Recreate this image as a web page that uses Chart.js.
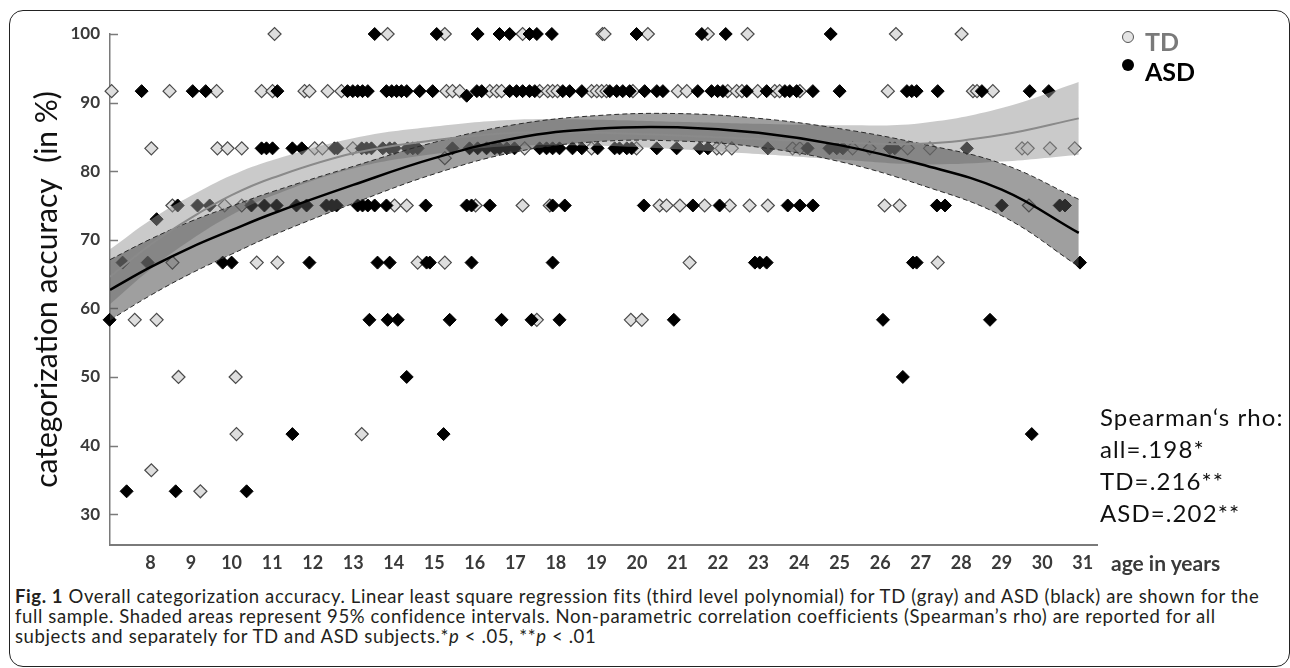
<!DOCTYPE html>
<html>
<head>
<meta charset="utf-8">
<title>Overall categorization accuracy</title>
<script src="https://cdn.jsdelivr.net/npm/chart.js@4.4.1/dist/chart.umd.min.js"></script>
<style>
  html, body { margin: 0; padding: 0; background: #fff; }
  body { width: 1290px; height: 668px; position: relative; overflow: hidden; font-family: Lato, sans-serif; }
  #chart { position: absolute; left: 0; top: 0; }
  #frame {
    position: absolute; left: 9px; top: 10px; width: 1281px; height: 657px;
    border: 1.5px solid #222; border-radius: 14px; box-sizing: border-box; pointer-events: none;
  }
  .txt { position: absolute; white-space: nowrap; }
  .axis-name { left: 1111px; top: 550px; font: bold 21px/26px Lato, sans-serif; color: #3a3a3a; }
  .dot { position: absolute; width: 12px; height: 12px; border-radius: 50%; box-sizing: border-box; }
  .dot.td { left: 1122px; top: 31px; background: #e4e4e4; border: 1.3px solid #555; }
  .dot.asd { left: 1122px; top: 59px; background: #000; }
  .leg { font: bold 25px/30px Lato, sans-serif; left: 1145px; }
  .leg.td { top: 26px; color: #7a7a7a; }
  .leg.asd { top: 56px; color: #000; }
  #rho { left: 1100px; top: 401px; font: 24px/32px Lato, sans-serif; letter-spacing: 1.1px; color: #111; }
  #caption { left: 15px; top: 586px; font: 18.5px/20px Lato, sans-serif; color: #231f20; }
  #caption div { white-space: nowrap; }
</style>
</head>
<body>
<canvas id="chart" width="1290" height="580"></canvas>

<div class="txt axis-name">age in years</div>
<div class="dot td"></div><div class="txt leg td">TD</div>
<div class="dot asd"></div><div class="txt leg asd">ASD</div>
<div class="txt" id="rho">Spearman‘s rho:<br>all=.198*<br>TD=.216**<br>ASD=.202**</div>
<div class="txt" id="caption">
  <div id="cap1"><b>Fig. 1</b> Overall categorization accuracy. Linear least square regression fits (third level polynomial) for TD (gray) and ASD (black) are shown for the</div>
  <div>full sample. Shaded areas represent 95% confidence intervals. Non-parametric correlation coefficients (Spearman’s rho) are reported for all</div>
  <div>subjects and separately for TD and ASD subjects.*<i>p</i> &lt; .05, **<i>p</i> &lt; .01</div>
</div>
<div id="frame"></div>

<script>
// accuracy levels (12 items -> steps of 8.33 %)
const levels = [100, 91.67, 83.33, 75, 66.67, 58.33, 50, 41.67, 33.33];

// ages of TD subjects, one list per accuracy level
const tdAges = [
  [11.06, 13.85, 15.26, 17.18, 19.15, 19.2, 20.27, 21.75, 22.73, 26.39, 28.01],
  [7.04, 8.47, 9.63, 10.74, 11.01, 11.8, 11.92, 12.37, 12.71, 15.3, 15.45, 15.63, 16.37, 16.54, 16.66,
   17.6, 17.8, 17.92, 18.04, 18.88, 19.01, 19.13, 19.25, 19.9, 21.01, 21.23, 22.24, 22.46, 22.59,
   22.98, 23.4, 23.52, 24.02, 26.19, 28.29, 28.39, 28.78],
  [8.02, 9.65, 9.9, 10.25, 12.05, 12.24, 12.99, 17.23, 18.88, 19.99, 21.97, 22.09, 22.34, 23.84,
   24.02, 25.32, 25.74, 26.68, 27.23, 29.5, 29.64, 30.19, 30.8],
  [8.54, 9.83, 10.25, 14.02, 14.32, 16.02, 17.18, 17.85, 20.56, 20.73, 21.06, 21.67, 22.29, 22.78,
   23.23, 26.11, 26.48, 29.67],
  [8.54, 10.62, 11.13, 14.59, 15.26, 21.3, 27.42],
  [7.61, 8.15, 17.53, 19.85, 20.12],
  [8.69, 10.1],
  [10.12, 13.21],
  [9.23]
];

// ages of ASD subjects, one list per accuracy level
const asdAges = [
  [13.53, 15.06, 16.07, 16.61, 16.86, 17.35, 17.53, 17.9, 19.99, 21.6, 22.19, 24.78],
  [7.78, 9.04, 9.36, 11.13, 12.86, 12.99, 13.11, 13.23, 13.36, 13.82, 13.95, 14.07, 14.19, 14.32,
   14.64, 14.96, 16.05, 16.17, 16.86, 17.03, 17.18, 17.35, 17.48, 18.17, 18.34, 18.64, 19.33, 19.5,
   19.65, 19.82, 20.19, 20.49, 20.64, 21.5, 21.84, 21.99, 22.12, 22.71, 23.2, 23.65, 23.77, 23.94,
   24.34, 25.0, 26.66, 26.78, 26.9, 27.42, 28.51, 29.69, 30.16],
  [10.74, 10.86, 11.01, 11.5, 11.73, 12.54, 12.61, 13.21, 13.33, 13.45, 13.73, 13.9, 14.02, 14.34,
   14.47, 14.59, 15.45, 15.87, 16.07, 16.29, 16.49, 16.61, 16.79, 16.98, 17.6, 17.77, 17.92, 18.09,
   18.41, 18.64, 19.03, 19.45, 19.57, 19.75, 19.87, 20.49, 20.98, 21.55, 21.75, 23.23, 24.21, 24.75,
   24.93, 25.08, 26.24, 26.36, 28.14],
  [8.67, 9.16, 9.46, 10.49, 10.81, 11.11, 11.6, 11.85, 12.34, 12.47, 12.59, 13.11, 13.23, 13.36,
   13.53, 13.82, 14.79, 15.8, 15.92, 16.37, 17.92, 18.22, 20.17, 21.38, 22.04, 23.72, 24.02, 24.34,
   27.4, 27.6, 29.0, 30.43, 30.56],
  [7.31, 7.93, 9.78, 10.0, 11.92, 13.6, 13.9, 14.81, 14.89, 15.92, 17.92, 22.91, 23.03, 23.2, 26.81,
   26.9, 30.93],
  [6.99, 13.4, 13.85, 14.1, 15.38, 16.66, 17.4, 18.09, 20.91, 26.07, 28.71],
  [14.32, 26.56],
  [11.5, 15.23, 29.74],
  [7.41, 8.62, 10.37]
];

// the few subjects off the regular levels: [age, accuracy]
const tdOther = [[15.26, 81.9], [8.02, 36.4]];
const asdOther = [[8.15, 73.0], [15.8, 91.0]];

// third order polynomial fits and 95% CI, read at these ages
const fitAges  = [7, 8, 9, 10, 11, 13, 15, 17, 19, 21, 23, 25, 27, 29, 30.9];
const tdFit    = [64.6, 69.3, 73.2, 76.5, 79.0, 82.6, 84.5, 85.6, 85.6, 85.2, 84.7, 84.2, 84.0, 85.3, 87.7];
const tdUpper  = [68.6, 72.9, 76.4, 79.4, 81.6, 84.8, 86.5, 87.5, 87.5, 87.2, 86.9, 86.7, 87.0, 89.2, 93.0];
const tdLower  = [60.6, 65.7, 70.0, 73.6, 76.4, 80.4, 82.5, 83.7, 83.7, 83.2, 82.5, 81.7, 81.0, 81.4, 82.4];
const asdFit   = [62.7, 66.0, 68.9, 71.4, 73.8, 78.0, 81.9, 84.8, 86.2, 86.4, 85.6, 83.8, 81.0, 77.3, 71.0];
const asdUpper = [67.1, 70.1, 72.7, 74.9, 77.0, 80.7, 84.2, 86.8, 88.1, 88.4, 87.7, 86.2, 84.0, 81.1, 75.9];
const asdLower = [58.3, 61.9, 65.1, 67.9, 70.6, 75.3, 79.6, 82.8, 84.3, 84.4, 83.5, 81.4, 78.0, 73.5, 66.1];

// ============ BUILD POINTS ============

function toPoints(ageRows, other) {
    const pts = [];
    ageRows.forEach((row, i) => row.forEach(a => pts.push({ x: a, y: levels[i] })));
    other.forEach(([a, v]) => pts.push({ x: a, y: v }));
    return pts;
}

function curve(values) {
    return fitAges.map((a, i) => ({ x: a, y: values[i] }));
}

const tdPoints = toPoints(tdAges, tdOther);
const asdPoints = toPoints(asdAges, asdOther);

// small inward tick marks on the y axis
const innerTicks = {
    id: 'innerTicks',
    beforeDatasetsDraw(chart) {
        const { ctx, chartArea } = chart;
        const y = chart.scales.y;
        ctx.save();
        ctx.strokeStyle = '#7a7a7a';
        ctx.lineWidth = 1.5;
        y.ticks.forEach(t => {
            const py = Math.round(y.getPixelForValue(t.value)) + 0.5;
            ctx.beginPath();
            ctx.moveTo(chartArea.left, py);
            ctx.lineTo(chartArea.left + 8, py);
            ctx.stroke();
        });
        ctx.restore();
    }
};

const line = { type: 'line', pointRadius: 0, tension: 0.4, fill: false };

new Chart(document.getElementById('chart'), {
    type: 'scatter',
    data: {
        datasets: [
            {
                label: 'TD', data: tdPoints, order: 11, clip: false,
                pointStyle: 'rectRot', pointRadius: 6.5,
                pointBackgroundColor: '#dedede', pointBorderColor: '#4a4a4a', pointBorderWidth: 1.2
            },
            {
                label: 'ASD', data: asdPoints, order: 10, clip: false,
                pointStyle: 'rectRot', pointRadius: 6.5,
                pointBackgroundColor: '#000', pointBorderColor: '#000', pointBorderWidth: 1
            },
            {
                ...line, label: 'TD CI upper', data: curve(tdUpper), order: 5, fill: '+1',
                backgroundColor: 'rgba(150,150,150,0.5)', borderColor: 'rgba(0,0,0,0)', borderWidth: 1
            },
            {
                ...line, label: 'TD CI lower', data: curve(tdLower), order: 5,
                borderColor: 'rgba(0,0,0,0)', borderWidth: 1
            },
            {
                ...line, label: 'ASD CI upper', data: curve(asdUpper), order: 4, fill: '+1',
                backgroundColor: 'rgba(80,80,80,0.55)', borderColor: '#2a2a2a', borderWidth: 1, borderDash: [5, 3]
            },
            {
                ...line, label: 'ASD CI lower', data: curve(asdLower), order: 3.5,
                borderColor: '#2a2a2a', borderWidth: 1, borderDash: [5, 3]
            },
            {
                ...line, label: 'TD fit', data: curve(tdFit), order: 2,
                borderColor: '#8a8a8a', borderWidth: 2
            },
            {
                ...line, label: 'ASD fit', data: curve(asdFit), order: 1,
                borderColor: '#000', borderWidth: 2.5
            }
        ]
    },
    options: {
        responsive: false,
        animation: false,
        events: [],
        layout: { padding: { top: 34, right: 193, bottom: 0, left: 0 } },
        plugins: {
            legend: { display: false },
            tooltip: { enabled: false }
        },
        scales: {
            x: {
                type: 'linear', min: 7, max: 31.35,
                grid: { display: false, drawTicks: false },
                border: { color: '#7a7a7a', width: 2 },
                ticks: {
                    stepSize: 1, includeBounds: false, padding: 7, autoSkip: false, maxRotation: 0,
                    color: '#3a3a3a', font: { family: 'Lato', size: 18, weight: 'bold' },
                    callback: v => (v < 8 ? '' : v)
                },
                afterFit: s => { s.height = 35; }
            },
            y: {
                type: 'linear', min: 25.5, max: 100,
                grid: { display: false, drawTicks: false },
                border: { color: '#7a7a7a', width: 1.5 },
                ticks: {
                    stepSize: 10, includeBounds: false, padding: 10,
                    color: '#3a3a3a', font: { family: 'Lato', size: 17, weight: 'bold' }
                },
                title: {
                    display: true, text: 'categorization accuracy  (in %)', color: '#111',
                    font: { family: 'Lato', size: 30, weight: 'normal' }, padding: { top: 29, bottom: 0 }
                },
                afterFit: s => { s.width = 110; }
            }
        }
    },
    plugins: [innerTicks]
});

// stretch caption letter spacing so the first line fills the frame like the original
const cap1 = document.getElementById('cap1');
const capW = cap1.getBoundingClientRect().width;
const spacing = (1244 - capW) / cap1.textContent.length;
document.getElementById('caption').style.letterSpacing = spacing.toFixed(2) + 'px';
</script>
</body>
</html>
